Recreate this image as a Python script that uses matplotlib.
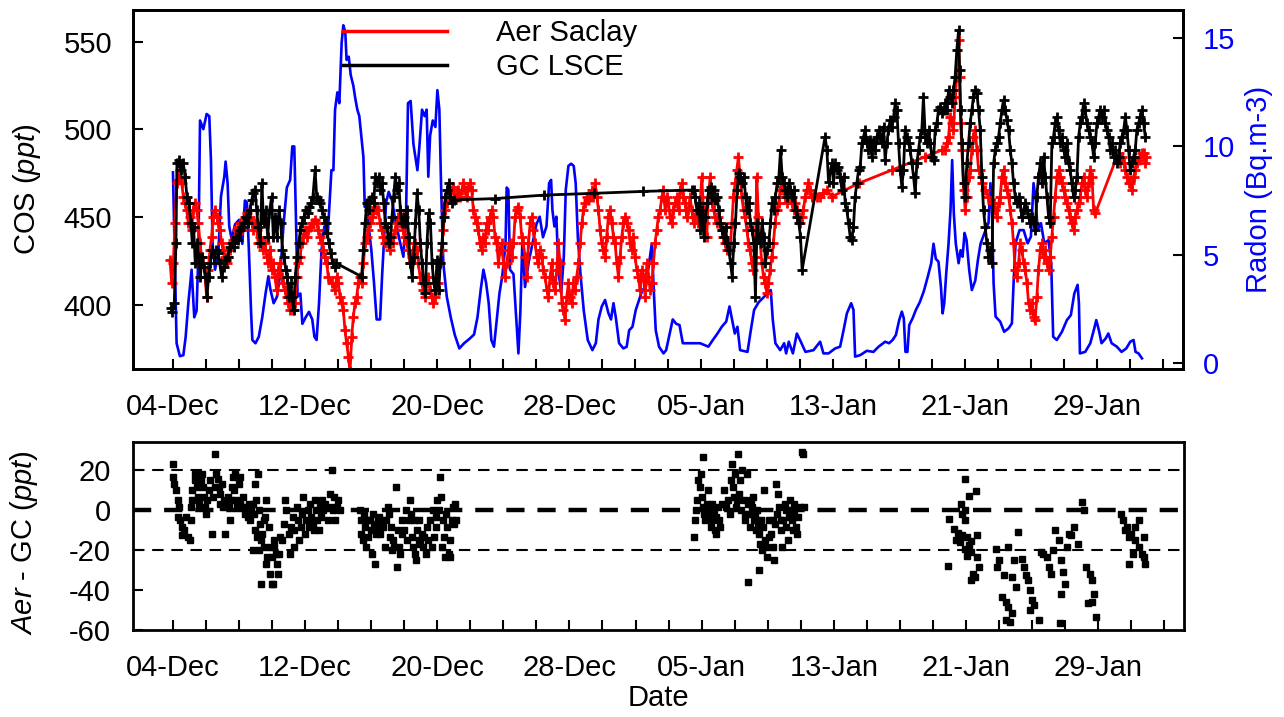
import numpy as np
import matplotlib
matplotlib.use("Agg")
import matplotlib.pyplot as plt
from matplotlib.lines import Line2D

plt.rcParams['font.family'] = ['Liberation Sans', 'DejaVu Sans']
plt.rcParams['mathtext.fontset'] = 'custom'
plt.rcParams['mathtext.it'] = 'Liberation Sans:italic'
plt.rcParams['mathtext.rm'] = 'Liberation Sans'
plt.rcParams['axes.unicode_minus'] = False

# x values are days since 04-Dec
tick_labels = ['04-Dec', '12-Dec', '20-Dec', '28-Dec', '05-Jan', '13-Jan', '21-Jan', '29-Jan']

# Radon (Bq.m-3), right axis
radon_day = [0.0, 0.22, 0.42, 0.63, 0.77, 0.93, 1.13, 1.29, 1.43, 1.54, 1.64, 1.84, 2.04, 2.2, 2.3, 2.4, 2.55, 2.75,
             2.91, 3.11, 3.19, 3.31, 3.41, 3.56, 3.76, 4.0, 4.2, 4.36, 4.48, 4.6, 4.73, 4.81, 5.0, 5.2, 5.41, 5.61,
             5.78, 5.9, 6.1, 6.3, 6.5, 6.7, 6.9, 7.1, 7.23, 7.35, 7.45, 7.55, 7.72, 7.84, 8.04, 8.24, 8.44, 8.57,
             8.7, 8.85, 9.0, 9.17, 9.37, 9.6,
             9.72, 9.82, 9.96, 10.08, 10.22, 10.32, 10.44, 10.52, 10.65, 10.77, 10.93, 11.05, 11.17, 11.29, 11.41,
             11.54, 11.62, 11.74, 11.86, 12.02, 12.18, 12.34, 12.55, 12.67, 12.79, 12.91, 13.07, 13.27, 13.47,
             13.72, 13.96, 14.12, 14.24, 14.4, 14.57, 14.69, 14.81, 14.93, 15.09, 15.25, 15.37, 15.47, 15.58,
             15.74, 15.9, 16.02, 16.14, 16.24, 16.38, 16.59, 16.83, 17.07, 17.35, 17.64, 17.96, 18.24, 18.45,
             18.65, 18.81, 18.97, 19.13, 19.29, 19.45, 19.62, 19.78,
             19.95, 20.15, 20.22, 20.32, 20.42, 20.63, 20.77, 20.93, 21.05, 21.17, 21.33, 21.54, 21.78, 22.02,
             22.22, 22.42, 22.63, 22.79, 22.91, 22.99, 23.11, 23.23, 23.35, 23.52, 23.68, 23.8, 23.96, 24.12,
             24.28, 24.4, 24.53, 24.69, 24.89, 25.13, 25.41, 25.62, 25.78, 25.98, 26.18, 26.38, 26.54, 26.69,
             26.83, 27.03, 27.29, 27.49, 27.64, 27.84, 28.04, 28.24, 28.44, 28.65, 28.85, 29.01, 29.13, 29.25, 29.45,
             29.72, 29.88, 30.08, 30.28, 30.49, 30.69, 30.89, 31.33, 31.94, 32.44, 32.71, 32.99, 33.25, 33.52,
             33.72, 33.88, 34.04, 34.2, 34.36, 34.81, 35.01, 35.21, 35.49, 35.82, 36.1, 36.22, 36.34, 36.5, 36.79,
             37.03, 37.15, 37.31, 37.56, 37.8, 38.04, 38.32, 38.81, 39.21, 39.41,
             39.72, 40.12, 40.42, 40.63, 40.83, 41.09, 41.23, 41.33, 41.64, 42.04, 42.44, 42.75, 43.15, 43.39,
             43.6, 43.8, 44.0, 44.16, 44.28, 44.38, 44.5, 44.61, 44.81, 45.01, 45.25, 45.49, 45.74, 45.94, 46.08,
             46.22, 46.38, 46.53, 46.63, 46.73, 46.85, 46.99, 47.11, 47.21, 47.31, 47.43, 47.6, 47.72, 47.84,
             47.96, 48.08, 48.24, 48.4, 48.61, 48.77, 48.93, 49.17, 49.41, 49.53,
             49.62, 49.72, 49.84, 50.12, 50.36, 50.63, 50.83, 50.93, 51.05, 51.29, 51.54, 51.78, 51.98, 52.14,
             52.28, 52.38, 52.59, 52.79, 53.05, 53.21, 53.33, 53.55, 53.86, 54.16, 54.4, 54.61, 54.81, 54.89,
             54.95, 55.27, 55.58, 55.82, 55.94, 56.1, 56.26, 56.51, 56.67, 56.87, 57.19, 57.47, 57.76, 58.0,
             58.2, 58.32, 58.5, 58.71]
radon_val = [8.8, 0.9, 0.3, 0.35, 1.2, 2.75, 4.3, 2.1, 2.4, 5.06, 11.2, 10.8, 11.5, 11.4, 9.4, 5.5, 4.3, 5.06,
             7.7, 8.6, 9.3, 8.3, 6.3, 5.7, 6.4, 6.6, 5.5, 7.5, 7.4, 5.2, 2.4, 1.05, 0.9, 1.2, 2.1, 3.2,
             4.0, 3.4, 2.75, 3.05, 4.1, 6.4, 8.1, 8.45, 10.0, 10.0, 6.75, 3.05, 3.2, 1.8, 2.1, 2.35, 2.0, 1.2,
             1.05, 2.75, 5.2, 6.3, 5.8, 8.9,
             8.9, 11.7, 12.5, 12.0, 14.8, 15.6, 15.3, 14.0, 14.15, 13.3, 12.8, 12.2, 11.7, 11.4, 10.5,
             9.5, 7.2, 7.4, 6.3, 5.2, 3.7, 2.0, 2.0, 4.0, 5.7, 7.4, 7.9, 7.5, 6.6,
             5.7, 4.9, 6.75, 12.0, 12.1, 10.1, 9.5, 8.9, 10.0, 11.7, 11.4, 11.7, 8.6, 10.5,
             11.2, 10.9, 12.6, 11.7, 8.3, 4.6, 3.05, 2.1, 1.3, 0.66, 0.9, 1.1, 1.3, 2.1,
             3.4, 4.3, 3.7, 2.75, 1.05, 0.74, 2.0, 3.2,
             4.0, 5.5, 8.1, 8.0, 4.3, 4.1, 2.4, 0.43, 2.4, 5.67, 3.5, 4.6, 5.5, 6.4,
             6.75, 5.8, 6.3, 8.3, 8.45, 7.06, 6.3, 6.75, 4.3, 3.2, 4.9, 8.0, 9.1, 9.2,
             9.1, 8.3, 5.8, 4.1, 2.4, 1.05, 0.58, 0.9, 2.0, 2.6, 2.9, 2.3, 2.0, 2.75,
             2.1, 0.9, 0.66, 0.74, 1.5, 1.66, 2.44, 2.9, 3.36, 3.5, 4.6, 5.5, 3.36, 1.5, 0.74,
             0.43, 0.58, 1.3, 2.0, 1.8, 1.74, 0.9, 0.9, 0.9, 0.74, 1.05, 1.35, 1.66, 1.9,
             2.6, 1.97, 1.35, 1.66, 0.58, 0.5, 1.5, 2.44, 2.8, 3.05, 3.3, 3.36, 2.0, 0.9, 0.58,
             0.9, 0.43, 0.97, 0.43, 1.35, 0.97, 0.5, 0.58, 0.97, 0.43,
             0.43, 0.66, 0.74, 1.5, 2.28, 2.75, 2.44, 0.28, 0.35, 0.55, 0.5, 0.74, 0.97, 0.9,
             1.05, 1.28, 1.97, 2.36, 2.05, 0.5, 0.5, 1.74, 2.05, 2.44, 2.8, 3.3, 4.0, 4.6, 5.5,
             4.8, 4.67, 3.5, 2.28, 2.75, 4.13, 5.5, 7.06, 9.37, 6.9, 5.5, 4.6, 5.2, 4.9,
             6.0, 5.67, 4.3, 3.36, 3.8, 4.75, 5.5, 6.0, 6.45, 8.3,
             7.06, 3.67, 2.13, 1.9, 1.43, 1.59, 1.82, 3.67, 5.52, 6.13, 6.13, 5.52, 5.83, 8.3,
             7.5, 6.13, 6.45, 5.52, 5.67, 4.6, 1.2, 1.05, 1.43, 1.97, 2.2, 3.2, 3.6, 2.75,
             0.43, 0.5, 0.9, 1.59, 1.97, 1.5, 0.9, 1.12, 1.35, 0.9, 0.74, 0.5, 0.66, 0.97,
             1.05, 0.5, 0.43, 0.2]

# GC LSCE, COS (ppt)
gc_day = [-0.12, -0.04, 0.08, 0.18, 0.24, 0.36, 0.48, 0.63, 0.73, 0.85, 0.97, 1.09, 1.17, 1.25, 1.35, 1.45, 1.56,
          1.66, 1.76, 1.88, 1.98, 2.06, 2.16, 2.26, 2.36, 2.48, 2.59, 2.71, 2.83, 2.95, 3.07, 3.19, 3.31, 3.43,
          3.56, 3.68, 3.8, 3.92, 4.04, 4.16, 4.28, 4.4, 4.53, 4.65, 4.77, 4.87, 4.97, 5.07, 5.17, 5.29, 5.39,
          5.49, 5.62, 5.74, 5.86, 5.98, 6.08, 6.2, 6.3, 6.42, 6.53, 6.63, 6.73, 6.83, 6.93, 7.03, 7.13, 7.23,
          7.31, 7.41, 7.52, 7.62, 7.72, 7.82, 7.94, 8.06, 8.16, 8.26, 8.36, 8.48, 8.61, 8.71, 8.83, 8.93, 9.03,
          9.15, 9.25, 9.35, 9.45, 9.56, 9.68, 9.8,
          9.9, 11.43, 11.54, 11.64, 11.74, 11.86, 11.96, 12.06, 12.16, 12.26, 12.36, 12.46, 12.57, 12.67, 12.77,
          12.87, 12.97, 13.07, 13.17, 13.27, 13.37, 13.47, 13.58, 13.68, 13.78, 13.88, 13.98, 14.08, 14.18,
          14.28, 14.38, 14.49, 14.59, 14.69, 14.79, 14.89, 14.99, 15.09, 15.19, 15.29, 15.39, 15.49, 15.6,
          15.7, 15.8, 15.9, 16.0, 16.1, 16.2, 16.3, 16.4, 16.5, 16.61, 16.71, 16.81, 16.91, 17.01,
          19.5, 22.5, 25.5, 28.5,
          31.43, 31.54, 31.64, 31.74, 31.86, 31.96, 32.06, 32.16, 32.26, 32.36, 32.46, 32.57, 32.67, 32.77,
          32.87, 32.97, 33.07, 33.17, 33.27, 33.37, 33.48, 33.58, 33.68, 33.78, 33.88, 33.98, 34.08, 34.18,
          34.28, 34.38, 34.48, 34.59, 34.69, 34.79, 34.89, 34.99, 35.09, 35.19, 35.29, 35.39, 35.49, 35.6,
          35.7, 35.8, 35.9, 36.0, 36.1, 36.2, 36.3, 36.4, 36.5, 36.61, 36.71, 36.81, 36.91, 37.01, 37.11,
          37.21, 37.31, 37.41, 37.51, 37.62, 37.72, 37.82, 37.92, 38.02, 38.12, 39.51, 39.62, 39.72,
          39.92, 40.02, 40.12, 40.22, 40.32, 40.42, 40.53, 40.63, 40.73, 40.83, 40.93, 41.03, 41.13, 41.23,
          41.33, 41.43, 41.54, 41.64, 41.74, 41.84, 41.94, 42.04, 42.14, 42.24, 42.34, 42.44, 42.55, 42.65,
          42.75, 42.85, 42.95, 43.05, 43.15, 43.25, 43.35, 43.45, 43.56, 43.66, 43.76, 43.86, 43.96, 44.06,
          44.16, 44.26, 44.36, 44.46, 44.57, 44.67, 44.77, 44.87, 44.97, 45.07, 45.17, 45.27, 45.37, 45.47,
          45.58, 45.68, 45.78, 45.88, 45.98, 46.08, 46.18, 46.28, 46.38, 46.48, 46.59, 46.69, 46.79, 46.89,
          46.99, 47.09, 47.19, 47.29, 47.39, 47.49, 47.6, 47.66, 47.72, 47.8, 47.9, 48.0, 48.1, 48.2, 48.3,
          48.4, 48.5, 48.61, 48.71, 48.81, 48.91, 49.01, 49.11, 49.21, 49.31, 49.41, 49.52, 49.62,
          49.72, 49.82, 49.92, 50.02, 50.12, 50.22, 50.32, 50.42, 50.53, 50.63, 50.73, 50.83, 50.93, 51.03,
          51.13, 51.23, 51.33, 51.43, 51.54, 51.64, 51.74, 51.84, 51.94, 52.04, 52.14, 52.24, 52.34, 52.44,
          52.55, 52.65, 52.75, 52.85, 52.95, 53.05, 53.15, 53.25, 53.35, 53.45, 53.56, 53.66, 53.76, 53.86,
          53.96, 54.06, 54.16, 54.26, 54.36, 54.46, 54.57, 54.67, 54.77, 54.87, 54.97, 55.07, 55.17, 55.27,
          55.37, 55.47, 55.58, 55.68, 55.78, 55.88, 55.98, 56.08, 56.18, 56.28, 56.38, 56.49, 56.59, 56.69,
          56.79, 56.89, 56.99, 57.09, 57.19, 57.29, 57.39, 57.49, 57.6, 57.7, 57.8, 57.9, 58.0, 58.1, 58.2,
          58.3, 58.4, 58.5, 58.61, 58.71, 58.81, 58.91]
gc_val = [397.9, 396.0, 400.8, 435.0, 480.6, 482.5, 476.8, 480.6, 473.0, 461.6, 457.8, 446.4, 435.0, 444.5, 423.6,
          435.0, 427.4, 416.0, 427.4, 421.7, 416.0, 404.6, 416.0, 423.6, 431.2, 427.4, 431.2, 429.3, 423.6, 416.0,
          421.7, 425.5, 427.4, 433.1, 435.0, 433.1, 438.8, 436.9, 442.6, 444.5, 446.4, 450.2, 446.4, 454.0, 459.7,
          463.5, 465.4, 454.0, 444.5, 435.0, 469.2, 446.4, 454.0, 438.8, 454.0, 461.6, 438.8, 450.2, 438.8, 454.0,
          446.4, 431.2, 427.4, 419.8, 416.0, 404.6, 412.2, 404.6, 397.0, 416.0, 427.4, 435.0, 442.6, 446.4, 450.2,
          454.0, 452.1, 455.9, 457.8, 461.6, 476.8, 461.6, 459.7, 457.8, 454.0, 450.2, 446.4, 440.7, 435.0, 429.3,
          423.6, 421.7,
          423.6, 416.0, 431.2, 446.4, 457.8, 454.0, 459.7, 461.6, 457.8, 473.0, 469.2, 473.0, 465.4, 469.2, 457.8,
          446.4, 444.5, 435.0, 438.8, 450.2, 461.6, 473.0, 465.4, 469.2, 454.0, 446.4, 450.2, 446.4, 454.0, 438.8,
          423.6, 416.0, 427.4, 446.4, 463.5, 454.0, 435.0, 423.6, 412.2, 406.5, 435.0, 452.1, 446.4, 423.6, 412.2,
          408.4, 425.5, 408.4, 423.6, 435.0, 450.2, 461.6, 465.4, 469.2, 461.6, 457.8, 459.7,
          460.5, 462.5, 463.5, 464.6,
          465.4, 465.4, 461.6, 454.0, 457.8, 442.6, 454.0, 438.8, 450.2, 457.8, 465.4, 467.3, 461.6, 465.4,
          459.7, 461.6, 454.0, 446.4, 442.6, 438.8, 444.5, 435.0, 431.2, 423.6, 416.0, 435.0, 446.4, 465.4,
          474.9, 473.0, 469.2, 473.0, 461.6, 454.0, 457.8, 446.4, 442.6, 435.0, 404.6, 446.4, 438.8, 435.0,
          446.4, 438.8, 423.6, 431.2, 435.0, 446.4, 457.8, 454.0, 461.6, 469.2, 473.0, 488.2, 473.0, 469.2, 465.4,
          461.6, 469.2, 465.4, 461.6, 465.4, 454.0, 450.2, 446.4, 438.8, 419.8, 495.8, 488.2, 470.0,
          480.6, 469.2, 480.6, 476.8, 478.7, 473.0, 465.4, 473.0, 457.8, 454.0, 446.4, 438.8, 436.9, 444.5,
          461.6, 469.2, 476.8, 478.7, 492.0, 495.8, 499.6, 492.0, 488.2, 493.9, 484.4, 492.0, 488.2, 495.8,
          499.6, 495.8, 492.0, 501.5, 482.5, 492.0, 499.6, 505.3, 501.5, 507.2, 514.8, 511.0, 492.0, 476.8,
          467.3, 476.8, 499.6, 495.8, 492.0, 488.2, 480.6, 473.0, 463.5, 480.6, 488.2, 495.8, 499.6, 518.6,
          495.8, 492.0, 499.6, 492.0, 484.4, 482.5, 499.6, 503.4, 511.0, 512.9, 509.1, 511.0, 514.8, 511.0,
          522.4, 518.6, 514.8, 522.4, 530.0, 545.2, 556.6, 533.8, 511.0, 492.0, 469.2, 461.6, 480.6, 492.0, 503.4,
          511.0, 518.6, 522.4, 520.5, 511.0, 499.6, 473.0, 454.0, 444.5, 435.0, 427.4, 431.2, 423.6,
          480.6, 488.2, 492.0, 495.8, 503.4, 511.0, 516.7, 511.0, 505.3, 499.6, 488.2, 480.6, 469.2, 461.6,
          457.8, 461.6, 457.8, 450.2, 454.0, 457.8, 454.0, 450.2, 446.4, 450.2, 446.4, 442.6, 461.6, 473.0,
          480.6, 469.2, 484.4, 473.0, 461.6, 450.2, 446.4, 492.0, 495.8, 503.4, 507.2, 499.6, 492.0, 495.8,
          488.2, 484.4, 492.0, 480.6, 476.8, 469.2, 461.6, 465.4, 473.0, 495.8, 503.4, 507.2, 514.8, 511.0,
          503.4, 499.6, 495.8, 492.0, 484.4, 492.0, 503.4, 507.2, 511.0, 507.2, 511.0, 503.4, 499.6, 495.8,
          488.2, 492.0, 484.4, 488.2, 480.6, 484.4, 492.0, 495.8, 499.6, 507.2, 499.6, 488.2, 476.8, 480.6, 484.4,
          488.2, 499.6, 503.4, 507.2, 511.0, 503.4, 495.8]

# Aer Saclay, COS (ppt)
aer_day = [-0.18, -0.08, 0.02, 0.12, 0.22, 0.32, 0.42, 0.53, 0.63, 0.73, 0.83, 0.93, 1.03, 1.13, 1.23, 1.33, 1.43,
           1.54, 1.64, 1.74, 1.84, 1.94, 2.04, 2.14, 2.24, 2.34, 2.44, 2.55, 2.65, 2.75, 2.85, 2.95, 3.05, 3.15,
           3.25, 3.35, 3.45, 3.56, 3.66, 3.76, 3.86, 3.96, 4.06, 4.16, 4.26, 4.36, 4.46, 4.57, 4.67, 4.77, 4.87,
           4.97, 5.07, 5.17, 5.27, 5.37, 5.47, 5.58, 5.68, 5.78, 5.88, 5.98, 6.08, 6.18, 6.28, 6.38, 6.48, 6.59,
           6.69, 6.79, 6.89, 6.99, 7.09, 7.19, 7.29, 7.39, 7.49, 7.6, 7.7, 7.8, 7.9, 8.0, 8.1, 8.2, 8.3, 8.4,
           8.51, 8.61, 8.71, 8.81, 8.91, 9.01, 9.11, 9.21, 9.31, 9.41, 9.62, 9.82,
           9.92, 10.02, 10.12, 10.22, 10.32, 10.42, 10.52, 10.63, 10.73, 10.83, 10.93, 11.03, 11.13, 11.23,
           11.33, 11.43, 11.54, 11.64, 11.74, 11.84, 11.94, 12.04, 12.14, 12.24, 12.34, 12.44, 12.55, 12.65,
           12.75, 12.85, 12.95, 13.05, 13.15, 13.25, 13.35, 13.45, 13.56, 13.66, 13.76, 13.86, 13.96, 14.06,
           14.16, 14.26, 14.36, 14.46, 14.57, 14.67, 14.77, 14.87, 14.97, 15.07, 15.17, 15.27, 15.37, 15.47,
           15.58, 15.68, 15.78, 15.88, 15.98, 16.08, 16.18, 16.28, 16.38, 16.48, 16.59, 16.69, 16.79, 16.89,
           16.99, 17.09, 17.19, 17.29, 17.39, 17.49, 17.6, 17.7, 17.8, 17.9, 18.0, 18.1, 18.2, 18.3, 18.4, 18.5,
           18.61, 18.71, 18.81, 18.91, 19.01, 19.11, 19.21, 19.31, 19.41, 19.51,
           19.62, 19.72, 19.82, 19.92, 20.02, 20.12, 20.22, 20.32, 20.42, 20.53, 20.63, 20.73, 20.83, 20.93,
           21.03, 21.13, 21.23, 21.33, 21.43, 21.54, 21.64, 21.74, 21.84, 21.94, 22.04, 22.14, 22.24, 22.34,
           22.44, 22.55, 22.65, 22.75, 22.85, 22.95, 23.05, 23.15, 23.25, 23.35, 23.45, 23.56, 23.66, 23.76,
           23.86, 23.96, 24.06, 24.16, 24.26, 24.36, 24.46, 24.57, 24.67, 24.77, 24.87, 24.97, 25.07, 25.17,
           25.27, 25.37, 25.47, 25.58, 25.68, 25.78, 25.88, 25.98, 26.08, 26.18, 26.28, 26.38, 26.48, 26.59,
           26.69, 26.79, 26.89, 26.99, 27.09, 27.19, 27.29, 27.39, 27.49, 27.6, 27.7, 27.8, 27.9, 28.0, 28.1,
           28.2, 28.3, 28.4, 28.5, 28.61, 28.71, 28.81, 28.91, 29.01, 29.11, 29.21, 29.31, 29.41, 29.52, 29.62,
           29.72,
           29.82, 29.92, 30.02, 30.12, 30.22, 30.32, 30.42, 30.53, 30.63, 30.73, 30.83, 30.93, 31.03, 31.13,
           31.23, 31.33, 31.43, 31.54, 31.64, 31.74, 31.84, 31.94, 32.04, 32.14, 32.24, 32.34, 32.44, 32.55,
           32.65, 32.75, 32.85, 32.95, 33.05, 33.15, 33.25, 33.35, 33.45, 33.56, 33.66, 33.76, 33.86, 33.96,
           34.06, 34.16, 34.26, 34.36, 34.46, 34.57, 34.67, 34.77, 34.87, 34.97, 35.07, 35.17, 35.27, 35.37,
           35.47, 35.58, 35.68, 35.78, 35.88, 35.98, 36.08, 36.18, 36.28, 36.38, 36.48, 36.59, 36.69, 36.79,
           36.89, 36.99, 37.09, 37.19, 37.29, 37.39, 37.49, 37.6, 37.7, 37.8, 37.9, 38.0, 38.1, 38.2, 38.3, 38.4,
           38.5, 38.61, 38.71, 38.81, 39.01, 39.21, 39.41, 39.62,
           39.92, 41.54, 43.56, 45.58, 46.59, 46.79, 46.89, 46.99, 47.09, 47.19, 47.29, 47.39, 47.49, 47.6,
           47.66, 47.72, 47.8, 47.9, 48.0, 48.1, 48.2, 48.3, 48.4, 48.5, 48.61, 48.71, 48.81, 48.91, 49.01,
           49.21, 49.41, 49.62,
           49.72, 49.82, 49.92, 50.02, 50.12, 50.22, 50.32, 50.42, 50.53, 50.63, 50.73, 50.83, 50.93, 51.03,
           51.13, 51.23, 51.33, 51.43, 51.54, 51.64, 51.74, 51.84, 51.94, 52.04, 52.14, 52.24, 52.34, 52.44,
           52.55, 52.65, 52.75, 52.85, 52.95, 53.05, 53.15, 53.25, 53.35, 53.45, 53.56, 53.66, 53.76, 53.86,
           53.96, 54.06, 54.16, 54.26, 54.36, 54.46, 54.57, 54.67, 54.77, 54.87, 54.97, 55.07, 55.17, 55.27,
           55.37, 55.47, 55.58, 55.68, 55.78, 55.88, 57.19, 57.29, 57.39, 57.49, 57.6, 57.7, 57.8, 57.9, 58.0,
           58.1, 58.2, 58.3, 58.4, 58.5, 58.61, 58.71, 58.81, 58.91, 58.97]
aer_val = [425.5, 412.2, 423.6, 446.4, 469.2, 471.1, 476.8, 469.2, 461.6, 457.8, 454.0, 446.4, 450.2, 442.6, 454.0,
           457.8, 454.0, 446.4, 435.0, 427.4, 423.6, 416.0, 404.6, 419.8, 431.2, 438.8, 450.2, 454.0, 450.2, 446.4,
           442.6, 435.0, 431.2, 427.4, 423.6, 427.4, 431.2, 435.0, 436.9, 438.8, 442.6, 444.5, 446.4, 442.6, 446.4,
           450.2, 452.1, 446.4, 450.2, 446.4, 442.6, 446.4, 442.6, 435.0, 438.8, 435.0, 431.2, 435.0, 427.4, 423.6,
           431.2, 419.8, 423.6, 416.0, 408.4, 419.8, 423.6, 416.0, 412.2, 408.4, 404.6, 400.8, 397.0, 400.8, 397.0,
           400.8, 416.0, 423.6, 427.4, 435.0, 438.8, 442.6, 438.8, 442.6, 444.5, 446.4, 446.4, 448.3, 446.4, 442.6,
           438.8, 435.0, 431.2, 427.4, 423.6, 416.0, 412.2, 408.4,
           416.0, 412.2, 404.6, 400.8, 397.0, 385.6, 378.0, 370.4, 362.0, 381.8, 393.2, 400.8, 404.6, 412.2,
           416.0, 412.2, 423.6, 435.0, 438.8, 442.6, 446.4, 450.2, 452.1, 455.9, 454.0, 454.0, 446.4, 442.6,
           438.8, 435.0, 436.9, 435.0, 431.2, 438.8, 435.0, 442.6, 446.4, 450.2, 446.4, 450.2, 442.6, 438.8,
           435.0, 431.2, 423.6, 427.4, 431.2, 435.0, 431.2, 423.6, 416.0, 412.2, 408.4, 404.6, 412.2, 416.0,
           408.4, 404.6, 400.8, 404.6, 408.4, 412.2, 423.6, 431.2, 442.6, 454.0, 457.8, 461.6, 461.6, 465.4,
           467.3, 461.6, 461.6, 465.4, 461.6, 465.4, 469.2, 465.4, 461.6, 467.3, 469.2, 465.4, 454.0, 450.2,
           446.4, 442.6, 435.0, 431.2, 438.8, 435.0, 446.4, 442.6, 450.2, 454.0, 450.2, 438.8,
           435.0, 423.6, 431.2, 435.0, 423.6, 416.0, 423.6, 431.2, 435.0, 427.4, 435.0, 450.2, 454.0, 455.9,
           450.2, 438.8, 435.0, 427.4, 416.0, 435.0, 446.4, 450.2, 442.6, 435.0, 427.4, 423.6, 431.2, 427.4,
           419.8, 416.0, 408.4, 404.6, 416.0, 423.6, 412.2, 408.4, 419.8, 435.0, 423.6, 400.8, 397.0, 391.3,
           404.6, 412.2, 404.6, 400.8, 412.2, 408.4, 416.0, 423.6, 435.0, 446.4, 454.0, 457.8, 461.6, 459.7,
           461.6, 465.4, 461.6, 469.2, 461.6, 454.0, 442.6, 435.0, 431.2, 427.4, 438.8, 450.2, 454.0, 446.4,
           438.8, 435.0, 423.6, 416.0, 427.4, 438.8, 446.4, 450.2, 446.4, 442.6, 435.0, 431.2, 438.8, 427.4,
           419.8, 416.0, 408.4, 419.8, 416.0, 404.6, 423.6, 416.0, 408.4, 412.2, 423.6, 435.0, 442.6, 450.2,
           454.0, 461.6, 465.4,
           454.0, 461.6, 457.8, 450.2, 446.4, 454.0, 457.8, 461.6, 454.0, 465.4, 469.2, 461.6, 457.8, 450.2,
           454.0, 461.6, 454.0, 446.4, 450.2, 454.0, 446.4, 457.8, 473.0, 454.0, 446.4, 438.8, 461.6, 473.0,
           457.8, 454.0, 450.2, 446.4, 450.2, 446.4, 442.6, 438.8, 435.0, 431.2, 435.0, 431.2, 446.4, 461.6,
           469.2, 476.8, 484.4, 473.0, 461.6, 454.0, 450.2, 442.6, 435.0, 431.2, 423.6, 419.8, 427.4, 473.0,
           450.2, 435.0, 423.6, 416.0, 412.2, 406.5, 412.2, 419.8, 427.4, 435.0, 446.4, 454.0, 457.8, 465.4,
           469.2, 465.4, 461.6, 457.8, 461.6, 465.4, 457.8, 454.0, 457.8, 454.0, 450.2, 446.4, 450.2, 454.0,
           461.6, 465.4, 469.2, 465.4, 461.6, 462.5, 461.6, 461.6, 463.5, 465.4,
           461.6, 469.2, 476.8, 484.4, 488.2, 488.2, 492.0, 495.8, 507.2, 503.4, 499.6, 518.6, 530.0, 550.9,
           530.0, 503.4, 488.2, 465.4, 454.0, 461.6, 473.0, 476.8, 488.2, 495.8, 499.6, 488.2, 476.8, 476.8,
           469.2, 465.4, 461.6, 457.8,
           457.8, 454.0, 450.2, 457.8, 461.6, 473.0, 476.8, 469.2, 465.4, 461.6, 454.0, 446.4, 435.0, 419.8,
           416.0, 423.6, 435.0, 431.2, 423.6, 419.8, 412.2, 400.8, 397.0, 400.8, 393.2, 391.3, 404.6, 419.8,
           431.2, 435.0, 427.4, 431.2, 423.6, 419.8, 427.4, 438.8, 450.2, 461.6, 473.0, 476.8, 473.0, 469.2,
           465.4, 461.6, 457.8, 454.0, 450.2, 446.4, 442.6, 450.2, 454.0, 457.8, 461.6, 469.2, 473.0, 465.4,
           461.6, 469.2, 476.8, 473.0, 454.0, 452.1, 484.4, 486.3, 480.6, 484.4, 480.6, 476.8, 473.0, 469.2,
           469.2, 465.4, 473.0, 476.8, 480.6, 482.5, 484.4, 486.3, 486.3, 480.6, 484.4]

# Aer - GC difference (ppt)
diff_day = [0.0, 0.0, 0.05, 0.18, 0.3, 0.35, 0.3, 0.43, 0.55, 0.55, 0.68, 0.8, 0.93, 1.0, 1.06, 1.11, 1.18, 1.18,
            1.31, 1.36, 1.43, 1.51, 1.56, 1.69, 1.76, 1.81, 1.86, 1.94, 2.01, 2.06, 2.19, 2.26, 2.36, 2.44, 2.52,
            2.57, 2.62, 2.7, 2.77, 2.82, 2.87, 2.95, 3.02, 3.07, 3.12, 3.27, 3.32, 3.4, 3.47, 3.52, 3.57, 3.65,
            3.72, 3.77, 3.82, 3.9, 3.97, 4.03, 4.08, 4.15, 4.23, 4.28, 4.33, 4.43, 4.53, 4.58, 4.66, 4.73, 4.83,
            4.91, 4.98, 5.03, 5.16, 5.23, 5.28, 5.41, 5.53, 5.58, 5.66, 5.79,
            4.85, 4.98, 5.1, 5.23, 5.35, 5.48, 5.6, 5.72, 5.85, 5.9, 5.97, 6.04, 6.09, 6.14, 6.21, 6.29, 6.34,
            6.39, 6.47, 6.59, 6.72, 6.79, 6.84, 7.01, 7.09, 7.14, 7.26, 7.34, 7.34, 7.5, 7.59, 7.64, 7.72, 7.8,
            7.85, 7.97, 8.05, 8.15, 8.23, 8.3, 8.35, 8.48, 8.55, 8.6, 8.65, 8.73, 8.86, 8.9, 8.98, 9.05, 9.1,
            9.23, 9.36, 9.49, 9.6, 9.6, 9.66, 9.74, 9.81, 9.92, 9.99, 10.11, 5.33, 5.97,
            11.31, 11.36, 11.41, 11.49, 11.56, 11.61, 11.66, 11.74, 11.81, 11.91, 11.99, 12.06, 12.11, 12.16,
            12.24, 12.31, 12.36, 12.41, 12.49, 12.56, 12.67, 12.74, 12.81, 12.92, 13.0, 13.07, 13.12, 13.17,
            13.25, 13.32, 13.38, 13.5, 13.57, 13.63, 13.68, 13.76, 13.84, 13.89, 14.01, 14.09, 14.14, 14.26,
            14.34, 14.39, 14.44, 14.52, 14.59, 14.67, 14.72, 14.8, 14.87, 14.92, 14.97, 15.05, 15.13, 15.2,
            15.33, 15.4, 15.45, 15.57, 15.69, 15.75, 15.82, 15.9, 15.95, 16.0, 16.08, 16.16, 16.21, 16.26,
            16.33, 16.41, 16.46, 16.51, 16.59, 16.69, 16.74, 16.79, 16.87, 16.94, 17.0, 17.06, 17.13,
            32.1, 31.55, 31.6, 31.65, 31.7, 31.8, 31.9, 31.98, 32.05, 32.1, 32.15, 32.22, 32.3, 32.35, 32.4,
            32.47, 32.55, 32.6, 32.65, 32.72, 32.8, 32.85, 32.9, 32.97, 33.05, 33.1, 33.22, 33.35, 33.47, 33.6,
            33.72, 33.8, 33.85, 33.9, 33.97, 34.05, 34.1, 34.15, 34.2, 34.28, 34.35, 34.4, 34.47, 34.55, 34.6,
            34.65, 34.72, 34.8, 34.85, 34.9, 34.97, 35.05, 35.1, 35.15, 35.22, 35.3, 35.35, 35.4, 35.47, 35.55,
            35.6, 35.65, 35.72, 35.8, 35.85, 35.9, 35.96, 36.05, 36.1, 36.22, 36.3, 36.35, 36.38, 36.45, 36.52,
            36.58, 36.62, 36.7, 36.78, 36.82, 36.88, 36.95, 37.03, 37.08, 37.13, 37.2, 37.28, 37.33, 37.38,
            37.45, 37.53, 37.58, 37.62, 37.7, 37.78, 37.83, 37.95, 38.08, 38.12, 38.2, 34.79, 35.46,
            47.94, 48.59, 48.19, 47.69, 47.92, 47.79, 46.99, 47.92, 47.29, 47.54, 47.74, 48.04, 47.42, 47.67,
            48.29, 48.17, 48.67, 47.92, 48.29, 48.04, 48.67, 48.79, 46.92, 48.42, 48.29, 48.54,
            49.83, 50.53, 50.03, 49.91, 50.28, 50.78, 51.03, 50.16, 50.41, 50.53, 50.78, 50.41, 50.66, 50.9,
            51.15, 51.4, 51.53, 51.65, 51.78, 51.9, 52.02, 52.15, 51.9, 52.4, 52.52, 52.65, 52.9, 53.02, 53.15,
            53.27, 53.39, 53.64, 53.77, 53.89, 54.02, 53.77, 53.72, 54.14, 54.27, 54.39, 54.52, 54.77, 55.01,
            55.14, 55.26, 55.51, 55.64, 55.76, 55.39, 55.64, 55.89,
            57.38, 57.5, 57.75, 57.88, 58.0, 58.25, 58.5, 58.63, 58.75, 58.87, 57.88, 58.13, 58.5, 57.63, 58.25,
            58.75]
diff_val = [23.3, 16.7, 13.3, 10.0, 5.0, 1.7, -3.3, -5.0, -8.3, -12.5, -10.0, -3.3, -13.3, -15.0, -5.0, 1.7, 5.0,
            10.0, 15.0, 18.3, 11.7, 6.7, 3.3, 15.0, 18.3, 11.7, 6.7, 1.7, -1.7, 5.0, 10.0, 15.0, -11.7, 6.7, 11.7,
            28.3, 18.3, 15.8, 11.7, 8.3, 3.3, 13.3, 1.7, 5.0, -11.7, 3.3, 6.7, 1.7, -5.0, 5.0, 11.7, 16.7,
            10.0, 18.3, 5.0, 3.3, 13.3, 16.7, 3.3, 1.7, 6.7, 1.7, -1.7, 0.0, -3.3, 3.3, -5.0, 0.0, 3.3,
            -1.7, 13.3, 5.0, 18.3, 0.0, -6.7, -11.7, -5.0, -3.3, 5.0, -8.3,
            -20.0, -10.0, -13.3, -20.0, -15.0, -18.3, -26.7, -23.3, -18.3, -31.7, -23.3, -36.7, -15.0, -18.3,
            -21.7, -26.7, -31.7, -21.7, -13.3, -15.0, -6.7, 5.0, 0.0, -11.7, -21.7, -8.3, -3.3, -18.3, -10.0,
            1.7, -5.0, -15.0, -8.3, -1.7, 6.7, -11.7, -5.0, 0.0, -8.3, 3.3, -3.3, -6.7, -10.0, 5.0, 0.0, -5.0,
            -10.0, 1.7, -3.3, 5.0, 0.0, 3.3, -5.0, 8.3, 1.7, 20.0, 0.0, 6.7, -5.0, 1.7, 5.0, 0.0, -36.7, -36.7,
            0.0, -5.0, -11.7, -15.0, -1.7, -8.3, -18.3, -5.0, -13.3, -5.0, -10.0, -21.7, -1.7, -6.7,
            -26.7, -11.7, -8.3, -5.0, -3.3, -11.7, -5.0, -8.3, -18.3, -5.0, 1.7, -1.7, -13.3, -8.3,
            -20.0, -15.0, -18.3, 11.7, -28.3, -10.0, -18.3, -21.7, -11.7, -5.0, -10.0, 0.0, -15.0, -5.0,
            5.0, -1.7, -13.3, -18.3, -5.0, -21.7, -25.0, -10.0, -15.0, -5.0, -16.7, -11.7, -18.3, -13.3,
            -21.7, -8.3, -15.0, -5.0, -18.3, 0.0, -13.3, -3.3, -8.3, 5.0, 0.0, 16.7, 6.7, -18.3,
            -5.0, -13.3, -23.3, -1.7, -8.3, -21.7, -23.3, -15.0, -5.0, 1.7, -6.7, 3.3, -5.0,
            26.7, -13.3, -5.0, 0.0, 5.0, 15.0, 11.7, 18.3, 6.7, 1.7, -1.7, -5.0, 3.3, 0.0, 10.0,
            -3.3, -8.3, 3.3, -5.0, 0.0, -10.0, -3.3, -11.7, 1.7, -5.0, -8.3, 3.3, 10.0, 1.7, 5.0,
            -1.7, 15.0, 23.3, 11.7, 6.7, 18.3, 1.7, 5.0, 28.3, 8.3, 15.0, 0.0, 20.0, 5.0, -1.7,
            -5.0, 18.3, 3.3, -1.7, -8.3, 5.0, 1.7, 6.7, -5.0, -1.7, -10.0, 0.0, -6.7, -11.7, -16.7,
            -5.0, -20.0, -8.3, 10.0, -15.0, -18.3, -23.3, -13.3, -5.0, -11.7, -18.3, -5.0, -25.0, -6.7, 13.3,
            -1.7, 8.3, 1.7, -5.0, -10.0, -18.3, -5.0, 3.3, 0.0, -8.3, -15.0, -3.3, 5.0, 0.0,
            -5.0, -10.0, -1.7, 3.3, -8.3, -11.7, -3.3, 1.7, 29.2, 28.3, 1.7, -35.8, -30.0,
            15.8, 9.7, 7.0, 3.0, 0.3, -2.0, -4.5, -5.0, -9.2, -11.3, -12.5, -13.3, -14.7, -15.8,
            -15.3, -17.5, -12.5, -19.2, -20.8, -23.0, -23.3, -28.3, -28.0, -31.7, -35.0, -33.3,
            -19.2, -18.3, -25.0, -28.3, -32.5, -33.3, -38.3, -43.3, -45.8, -48.3, -51.7, -55.0, -55.8, -25.0,
            -10.8, -24.2, -28.3, -32.5, -35.0, -40.0, -45.0, -47.5, -50.0, -55.0, -20.8, -21.7, -23.3, -28.3, -31.7,
            -20.0, -10.0, -15.0, -25.0, -30.8, -36.7, -41.7, -56.7, -18.3, -11.7, -12.5, -8.3, -16.7, 4.2,
            0.0, -28.3, -31.7, -35.0, -41.7, -46.7, -45.8, -53.3,
            -1.7, -5.0, -8.3, -13.3, -11.7, -15.0, -18.3, -21.7, -23.3, -26.7, -26.7, -21.7, -5.0, -10.0, -8.3,
            -13.3]

BLUE = '#0000ff'
RED = '#ff0000'
FS = 21

fig = plt.figure(figsize=(12.84, 7.17), dpi=100)
ax = fig.add_axes([0.1036, 0.4854, 0.8178, 0.5007])
axr = ax.twinx()
ax.set_zorder(axr.get_zorder() + 1)
ax.patch.set_visible(False)

axr.plot(radon_day, radon_val, color=BLUE, lw=1.9)
ax.plot(aer_day, aer_val, color=RED, lw=2.0, marker='+', ms=7, mew=2.0)
ax.plot(gc_day, gc_val, color='black', lw=2.0, marker='+', ms=7, mew=2.0)

xmin, xmax = -2.42, 61.2
ax.set_xlim(xmin, xmax)
ax.set_ylim(363.3, 568.1)
axr.set_ylim(-0.29, 16.31)

major = np.arange(len(tick_labels)) * 8
ax.set_xticks(major)
ax.set_xticklabels(tick_labels)
ax.set_xticks(np.arange(0, 61, 2), minor=True)
ax.set_yticks([400, 450, 500, 550])
axr.set_yticks([0, 5, 10, 15])

for a in (ax, axr):
    for s in a.spines.values():
        s.set_linewidth(2.0)
ax.tick_params(axis='both', which='both', direction='in', length=7, width=1.5, labelsize=FS)
ax.tick_params(axis='x', which='both', pad=17)
ax.tick_params(axis='y', pad=15)
axr.tick_params(axis='y', direction='in', length=7, width=1.5, labelsize=FS, pad=14, labelcolor=BLUE)

ax.set_ylabel('COS $\\mathit{(ppt)}$', fontsize=FS)
ax.yaxis.set_label_coords(-0.086, 0.5)
axr.set_ylabel('Radon (Bq.m-3)', fontsize=FS, color=BLUE)
axr.yaxis.set_label_coords(1.059, 0.5)

handles = [Line2D([], [], color=RED, lw=2.5), Line2D([], [], color='black', lw=2.5)]
ax.legend(handles, ['Aer Saclay', 'GC LSCE'], loc='upper left', bbox_to_anchor=(0.2, 0.975),
          frameon=False, fontsize=FS, handlelength=3.56, handletextpad=1.7, labelspacing=0.22,
          borderaxespad=0, borderpad=0)

# difference panel
ax2 = fig.add_axes([0.1036, 0.1213, 0.8185, 0.2622])
ax2.axhline(20, color='black', lw=1.5, dashes=(5.5, 3.7))
ax2.axhline(-20, color='black', lw=1.5, dashes=(5.5, 3.7))
ax2.axhline(0, color='black', lw=3.2, dashes=(4.1, 2.9))
ax2.plot(diff_day, diff_val, 's', color='black', ms=4.2, ls='none')
ax2.set_xlim(xmin, xmax)
ax2.set_ylim(-60, 34.2)
ax2.set_xticks(major)
ax2.set_xticklabels(tick_labels)
ax2.set_xticks(np.arange(0, 61, 2), minor=True)
ax2.set_yticks([20, 0, -20, -40, -60])
for s in ax2.spines.values():
    s.set_linewidth(2.0)
ax2.tick_params(axis='both', which='both', direction='in', length=7, width=1.5, labelsize=FS)
ax2.tick_params(axis='x', which='both', pad=17)
ax2.tick_params(axis='y', pad=16)
ax2.set_ylabel('$\\mathit{Aer}$ - GC $\\mathit{(ppt)}$', fontsize=FS)
ax2.yaxis.set_label_coords(-0.0885, 0.463)
ax2.set_xlabel('Date', fontsize=FS, labelpad=2)

fig.savefig('out.png', dpi=100)
